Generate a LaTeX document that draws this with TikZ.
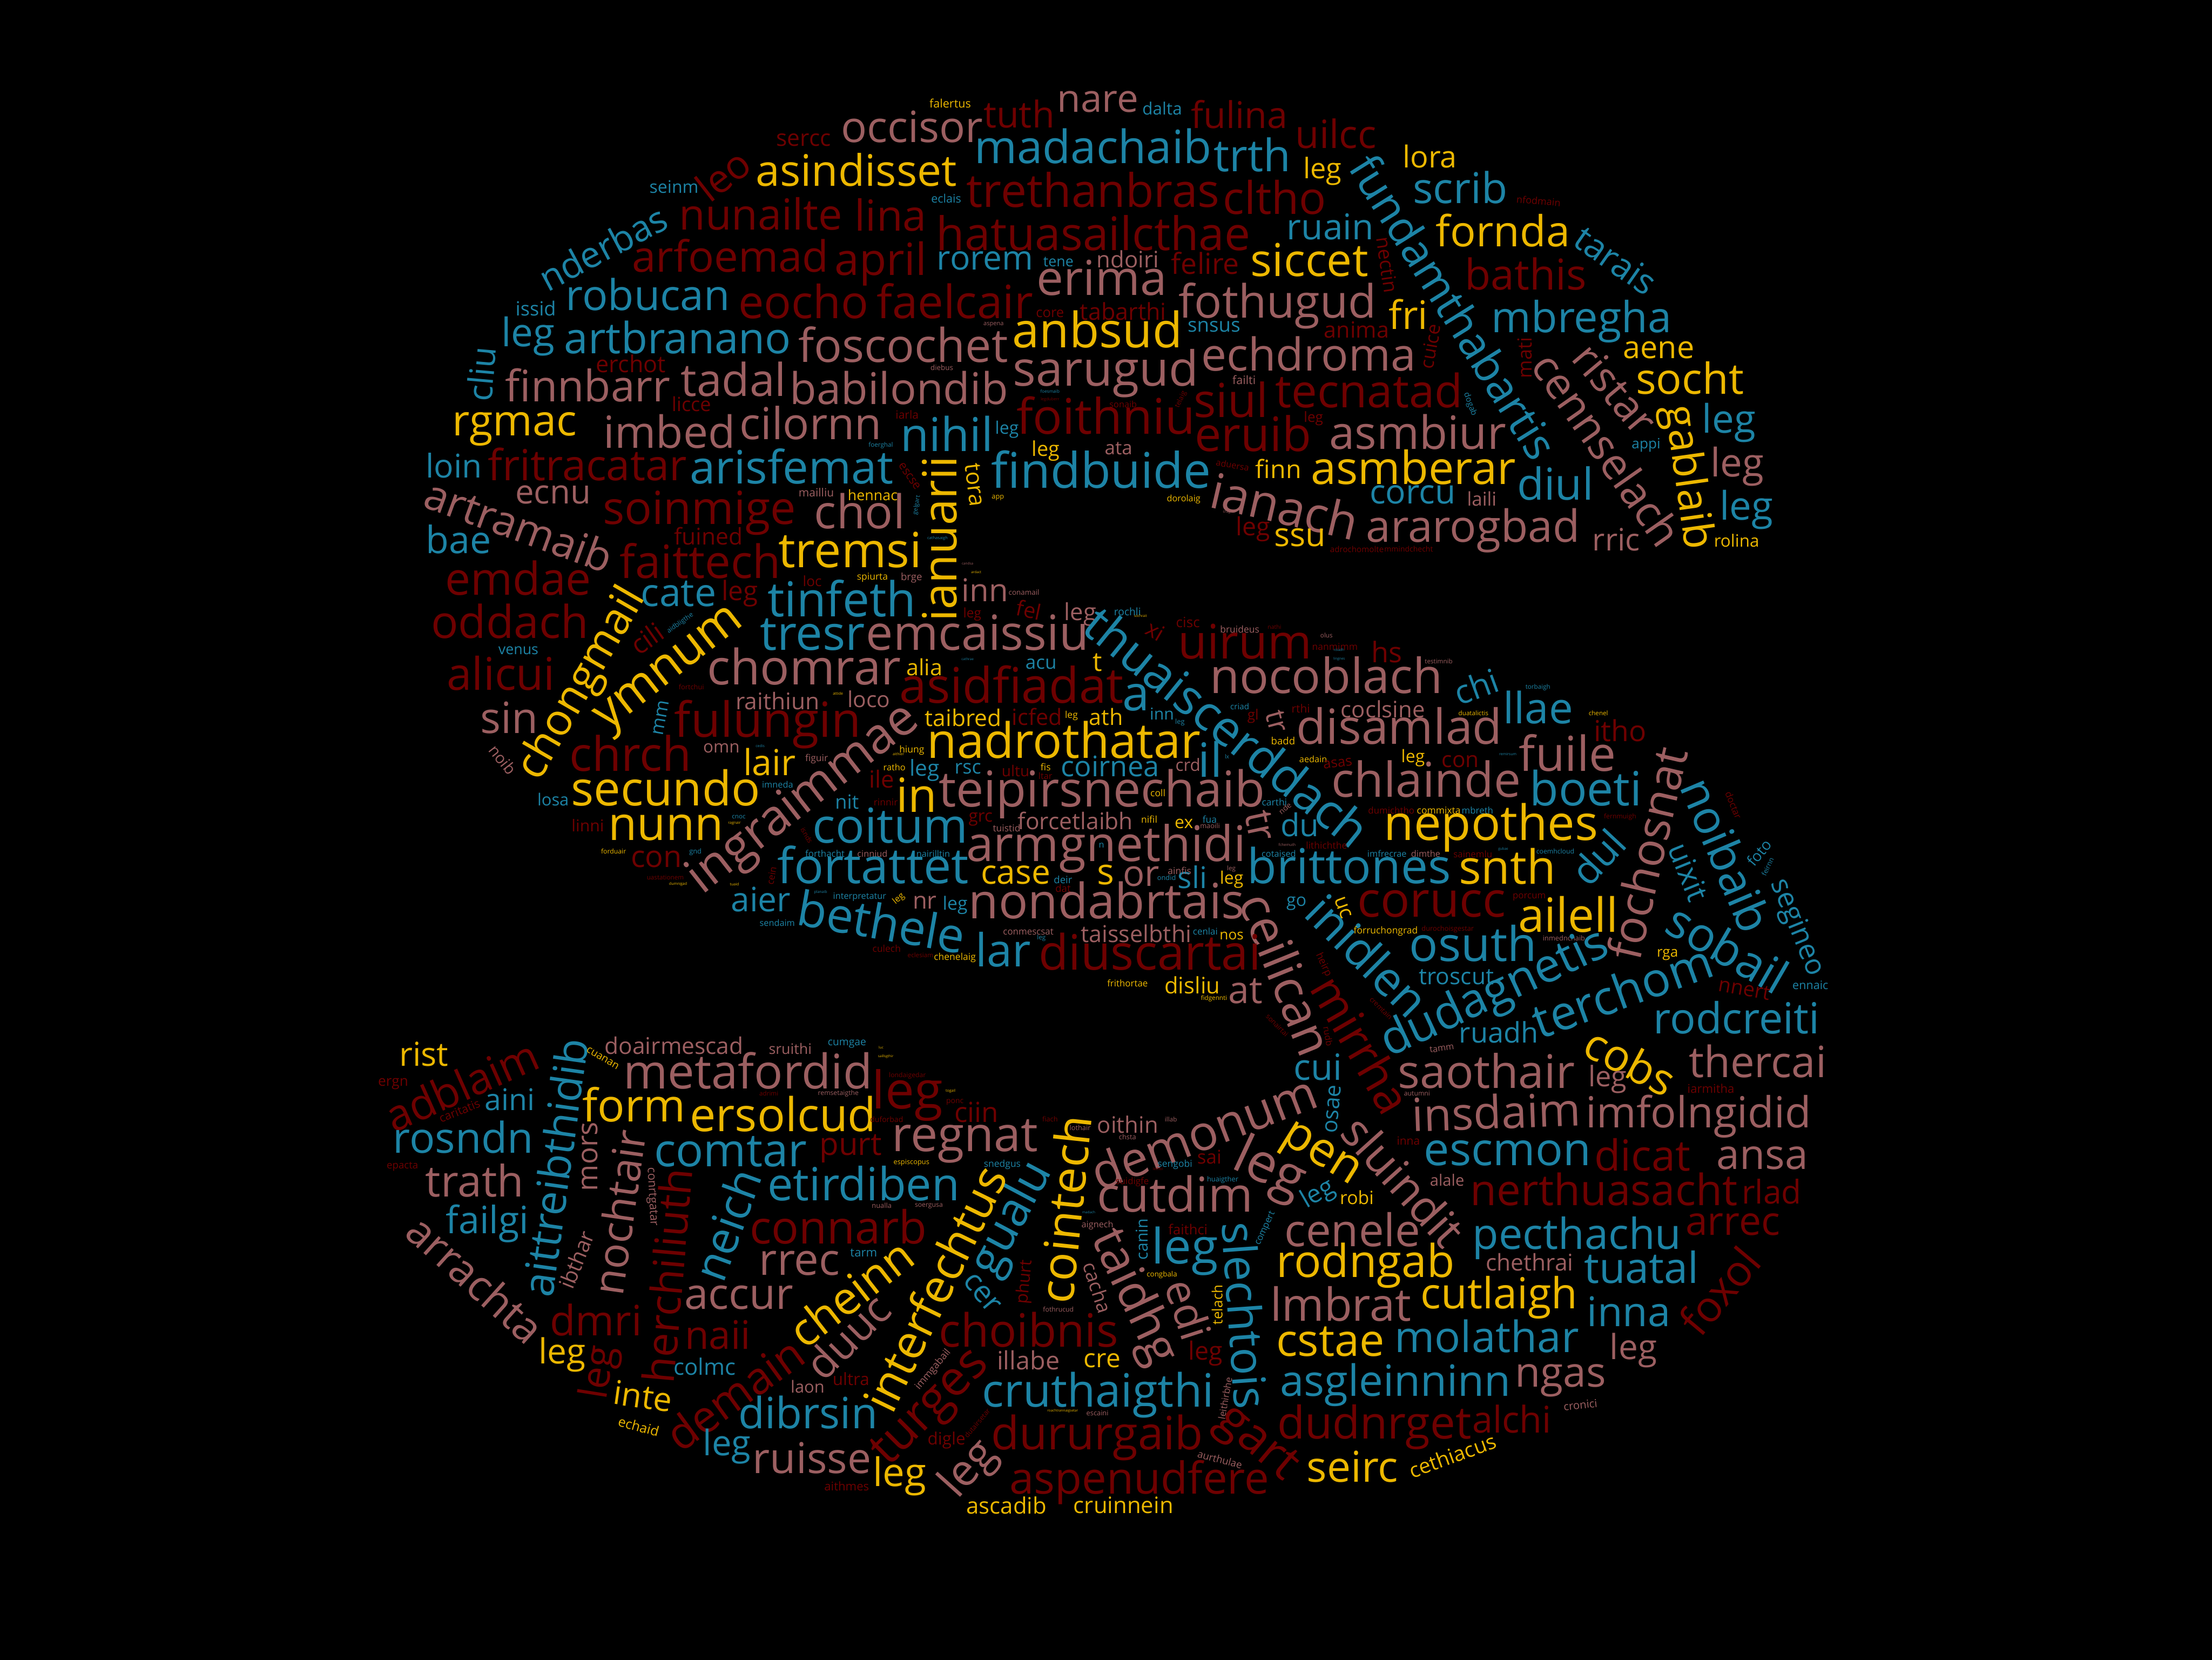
\documentclass[tikz,border=0pt]{standalone}
\usepackage{fontspec}
\setmainfont{Open Sans}
\definecolor{wordgold}{RGB}{237,184,0}
\definecolor{wordblue}{RGB}{29,132,166}
\definecolor{wordrose}{RGB}{156,95,97}
\definecolor{worddark}{RGB}{110,0,0}
\tikzset{
     word/.style={inner sep=0pt, outer sep=0pt},
     wg/.style={word, text=wordgold},
     wb/.style={word, text=wordblue},
     wr/.style={word, text=wordrose},
     wd/.style={word, text=worddark},
    }
% #1 origin of the block, #2 prefix of the node names, #3 x/y/size/style/angle/text
\newcommand{\wordblock}[3]{
  \begin{scope}[shift={#1}]
    \foreach \x/\y/\s/\c/\r/\t [count=\i] in {#3} {
      \pgfmathsetmacro\fs{\s*0.1657}
      \node[\c, rotate=\r, font=\fontsize{\fs pt}{\fs pt}\selectfont] (#2\i) at (\x,\y) {\t};
    }
  \end{scope}
}
\begin{document}
\begin{tikzpicture}[x=0.0057398cm, y=-0.0057398cm]
  \useasboundingbox (0,0) rectangle (7136.1,5352.1);
  \fill[black] (-10,-10) rectangle (7146,5362);

  % top left
  \wordblock{(1254.4,243.9)}{a}{
    1338/207/73/wd/0/sercc, 1688/165/137/wr/0/occisor, 1508/304/138/wg/0/asindisset,
    1078/320/126/wd/38/leo, 920/358/55/wb/0/seinm, 1200/445/136/wd/0/nunailte,
    1619/450/136/wd/0/lina, 690/555/115/wb/28/nderbas, 1102/580/137/wd/0/arfoemad,
    1587/607/141/wd/0/april, 836/705/135/wb/0/robucan, 1338/728/145/wd/0/eocho,
    474/751/62/wb/0/issid, 449/840/125/wb/0/leg, 932/845/137/wb/0/artbranano,
    1659/868/148/wr/0/foscochet, 298/962/108/wb/85/cliu, 781/930/74/wd/0/erchot,
    642/998/138/wr/0/finnbarr, 1112/980/144/wr/0/tadal, 1646/1008/139/wr/0/babilondib,
    976/1060/62/wd/0/licce, 406/1140/136/wg/0/rgmac, 905/1148/141/wr/0/imbed,
    1361/1120/140/wr/0/cilornn, 210/1258/104/wb/0/loin, 640/1253/136/wd/0/fritracatar,
    1299/1260/146/wb/0/arisfemat, 420/1450/135/wr/-20/artramaib, 530/1352/106/wr/0/ecnu,
    1379/1345/36/wr/0/mailliu, 1561/1353/46/wg/0/hennac, 1002/1410/145/wd/0/soinmige,
    1519/1405/148/wr/0/chol, 225/1495/120/wb/0/bae, 1031/1485/73/wd/0/fuined,
    1005/1565/146/wd/0/faittech, 1488/1530/154/wg/0/tremsi
  }

  % top middle
  \wordblock{(2822.4,243.9)}{b}{
    243/90/37/wg/0/falertus, 465/124/117/wd/0/tuth, 719/85/122/wr/0/nare,
    927/105/54/wb/0/dalta, 1176/125/117/wd/0/fulina, 1487/188/124/wd/0/uilcc,
    704/228/146/wb/0/madachaib, 1217/255/142/wb/0/trth, 1444/308/90/wg/0/leg,
    704/368/147/wd/0/trethanbras, 1290/393/143/wd/0/cltho, 230/397/37/wb/0/eclais,
    705/507/147/wd/0/hatuasailcthae, 1469/488/113/wb/0/ruain, 356/598/107/wb/0/rorem,
    592/600/46/wb/0/tene, 816/592/72/wr/0/ndoiri, 1066/605/92/wd/0/felire,
    1402/595/144/wg/0/siccet, 732/652/153/wr/0/erima, 258/728/146/wd/0/faelcair,
    1299/742/146/wr/0/fothugud, 801/760/74/wd/0/tabarthi, 565/768/44/wd/0/core,
    718/818/155/wg/0/anbsud, 1094/810/63/wb/0/snsus, 383/802/19/wr/0/aspena,
    1554/820/71/wd/0/anima, 216/941/23/wr/0/diebus, 745/960/154/wr/0/sarugud,
    1399/897/144/wr/0/echdroma, 1191/982/37/wr/0/failti, 1594/1015/146/wd/0/tecnatad,
    1149/1045/149/wd/0/siul, 565/1018/14/wb/0/foesmaib, 565/1045/13/wd/0/legduberr,
    987/1045/22/wd/65/telaig, 801/1060/28/wd/0/sonaib, 104/1094/36/wd/0/iarla,
    1415/1106/45/wd/0/leg, 232/1155/148/wb/0/nihil, 745/1097/156/wd/0/foithniu,
    426/1142/55/wb/0/leg, 1220/1155/151/wd/0/eruib, 1751/1150/146/wr/0/asmbiur,
    19/1192/20/wb/0/foerghal, 786/1202/60/wr/0/ata, 551/1210/65/wg/0/leg,
    730/1270/156/wb/0/findbuide, 1154/1256/28/wd/-10/aduersa, 1302/1268/80/wg/0/finn,
    1737/1262/145/wg/0/asmberar, 1322/1388/155/wr/-13/ianach, 112/1292/38/wd/-55/escse,
    323/1320/73/wg/-83/tora, 208/1494/150/wg/90/ianuarii, 397/1361/22/wg/0/app,
    996/1366/28/wg/0/dorolaig, 135/1385/19/wb/80/gelgart, 1135/1408/12/wr/0/crag,
    1220/1462/80/wd/0/leg, 1372/1490/105/wg/0/ssu, 202/1492/13/wb/0/cathasaigh,
    1555/1527/26/wd/0/adrochomolte
  }

  % top right
  \wordblock{(4390.4,243.9)}{c}{
    222/261/96/wg/0/lora, 320/360/135/wb/0/scrib, 573/404/31/wd/-5/nfodmain,
    458/500/136/wg/0/fornda, 822/595/112/wb/-35/tarais, 532/640/135/wd/0/bathis,
    85/610/62/wd/-82/nectin, 300/745/141/wb/-58/fundamthabartis, 153/770/125/wg/0/fri,
    712/792/136/wb/0/mbregha, 224/873/60/wd/80/cuice, 528/910/62/wd/90/mati,
    961/885/99/wg/0/aene, 820/1010/134/wr/-50/ristar, 795/1205/137/wr/-55/cennselach,
    1061/975/136/wg/0/socht, 352/1060/26/wb/-70/dogab, 1187/1120/125/wb/0/leg,
    1050/1295/136/wg/-82/gablaib, 920/1192/45/wb/0/appi, 1214/1260/125/wr/0/leg,
    1244/1400/125/wb/0/leg, 627/1315/140/wb/0/diul, 167/1352/107/wb/0/corcu,
    390/1365/60/wr/0/laili, 362/1468/141/wr/0/ararogbad, 824/1497/98/wr/0/rric,
    1212/1500/54/wg/0/rolina, 154/1527/24/wd/0/mmindchecht
  }

  % middle left
  \wordblock{(1254.4,1811.9)}{d}{
    418/52/144/wd/0/emdae, 625/395/140/wg/60/chongmail, 935/103/123/wb/0/cate,
    1132/102/85/wd/0/leg, 1366/63/45/wd/0/loc, 1560/50/30/wg/0/spiurta,
    1461/118/153/wb/0/tinfeth, 390/192/144/wd/0/oddach, 1367/235/152/wb/0/tresr,
    1899/228/154/wr/0/emcaissiu, 832/247/85/wd/35/cili, 940/198/21/wb/35/aidbligthe,
    912/355/155/wg/38/ymnum, 418/287/46/wb/0/venus, 1339/338/155/wr/0/chomrar,
    362/360/143/wd/0/alicui, 976/404/22/wd/0/fortchui, 1254/448/73/wr/0/raithiun,
    1548/443/70/wr/0/loco, 1449/425/12/wg/0/attide, 1222/525/154/wd/0/fulungin,
    388/502/137/wr/0/sin, 878/503/60/wb/80/mm, 780/618/151/wd/0/chrch,
    1073/602/54/wr/0/omn, 368/638/50/wr/-52/noib, 1228/645/114/wg/0/lair,
    1380/635/30/wr/0/figuir, 1198/593/12/wb/0/cedis, 893/728/152/wg/0/secundo,
    1254/718/28/wb/0/imneda, 530/767/53/wb/0/losa, 1340/768/158/wr/38/ingraimmae,
    1478/774/62/wb/0/nit, 1618/850/153/wb/0/coitum, 642/850/52/wd/0/linni,
    894/858/149/wg/0/nunn, 1129/823/20/wb/0/cnoc, 1115/843/12/wg/0/ragnair,
    1348/882/22/wd/-60/isnds, 725/934/21/wg/0/forduair, 989/935/22/wb/0/gnd,
    863/960/96/wd/0/con, 1562/978/157/wb/0/fortattet, 1407/941/29/wb/0/forthacht,
    1560/941/28/wr/0/cinniud, 1235/1012/30/wd/80/cein, 892/1018/20/wd/0/uastationem,
    933/1039/12/wg/0/dumnigad, 1115/1039/12/wg/0/tuaid, 1393/1066/12/wb/0/planaib,
    1519/1081/28/wb/0/interpretatur, 1200/1088/107/wb/0/aier, 1590/1160/153/wb/-10/bethele,
    1253/1164/28/wb/0/sendaim
  }

  % middle
  \wordblock{(2822.4,1811.9)}{e}{
    355/90/100/wr/0/inn, 118/52/32/wr/0/brge, 481/99/23/wr/0/conamail,
    327/34/11/wg/0/ardact, 299/6/11/wr/0/candsa, 497/155/68/wd/-12/fel,
    663/170/75/wr/0/leg, 314/170/42/wd/0/leg, 815/161/33/wb/0/rochli,
    857/174/11/wg/0/sochrait, 905/222/70/wd/-30/xi, 1137/531/155/wb/-39/thuaiscerddach,
    1010/196/45/wd/0/cisc, 1194/258/151/wd/0/uirum, 1177/217/30/wr/0/bruideus,
    1289/210/18/wd/0/nathi, 1457/238/20/wr/0/olus, 1484/274/30/wd/0/nanmimm,
    1497/285/11/wb/0/roiadh, 1498/313/11/wb/0/lingnes, 299/313/11/wb/0/cathrae,
    160/340/71/wg/0/alia, 536/330/60/wb/0/acu, 718/324/85/wg/0/t,
    1456/365/154/wr/0/nocoblach, 441/395/156/wd/0/asidfiadat, 843/438/155/wb/0/a,
    285/502/73/wg/0/taibred, 523/500/71/wd/0/icfed, 634/497/30/wg/0/leg,
    746/500/71/wg/0/ath, 926/490/52/wb/0/inn, 1177/467/26/wb/0/criad,
    1374/473/36/wd/0/rthi, 1220/498/45/wd/0/gl, 1297/515/90/wr/-75/tr,
    984/517/22/wb/0/leg, 610/575/155/wg/0/nadrothatar, 1692/530/154/wr/0/disamlad,
    1639/476/72/wr/0/coclsine, 119/608/30/wg/0/hiung, 76/620/12/wg/0/aithier,
    1317/578/32/wg/0/badd, 1082/637/150/wb/0/il, 63/663/28/wg/0/ratho,
    22/700/75/wd/0/ile, 160/673/70/wb/0/leg, 300/667/62/wb/0/rsc,
    454/675/48/wd/0/ultu, 551/662/30/wg/0/fis, 550/691/28/wd/0/ltar,
    759/660/90/wb/0/coirnea, 1010/655/54/wr/0/crd, 1414/636/28/wg/0/aedain,
    1136/628/18/wb/0/lx, 1493/650/45/wd/8/asas, 134/752/150/wg/0/in,
    732/748/157/wr/0/teipirsnechaib, 913/746/30/wg/0/coll, 35/775/30/wd/0/rinnir,
    1289/775/30/wb/0/carthi, 1323/795/24/wr/40/nde, 647/835/73/wr/0/forcetlaibh,
    341/830/54/wd/0/grc, 885/830/30/wg/0/nifil, 997/845/55/wg/0/ex,
    1080/830/30/wb/0/fua, 1081/851/22/wr/0/maoili, 425/859/30/wr/0/tuistid,
    1242/851/125/wr/-78/tr, 1371/847/100/wb/0/du, 746/925/156/wr/0/armgnethidi,
    731/914/28/wb/0/n, 1457/914/30/wd/0/lithichthe, 1330/912/12/wr/0/fchemuth,
    1303/942/28/wb/0/cotaised, 188/942/28/wb/0/nairilltin, 1530/980/153/wb/0/brittones,
    454/1010/107/wg/0/case, 745/1010/115/wg/0/s, 859/1015/115/wr/0/or,
    1024/1017/95/wb/0/sli, 983/997/30/wr/0/ainfis, 941/1018/22/wb/0/ondid,
    1151/1025/55/wg/0/leg, 1150/991/20/wr/0/leg, 607/1025/32/wb/0/deir,
    607/1053/32/wd/0/dat, 77/1087/28/wg/40/leg, 161/1098/75/wr/0/nr,
    259/1107/58/wb/0/leg, 748/1092/155/wr/0/nondabrtais, 1360/1102/55/wb/0/go,
    1510/1115/65/wg/-70/uc, 1329/1328/157/wr/-68/ceilican, 1590/1270/150/wb/-45/inidlen,
    414/1250/145/wb/0/lar, 495/1193/29/wr/0/conmescsat, 537/1214/20/wb/0/leg,
    843/1200/74/wr/0/taisselbthi, 1066/1192/29/wb/0/cenlai, 1151/1207/45/wg/0/nos,
    887/1258/155/wd/0/diuscartai, 38/1248/30/wd/0/culech, 147/1269/20/wd/0/eclesiam,
    258/1277/30/wg/0/chenelaig, 1447/1300/32/wd/-65/heirp, 1570/1556/150/wd/-60/mirrha,
    815/1359/29/wg/0/frithortae, 1024/1365/72/wg/0/disliu, 1195/1385/120/wr/0/at,
    1094/1408/20/wg/0/fidgennti, 1298/1495/22/wd/-45/sonairtai, 1462/1530/28/wd/-80/rudb
  }

  % middle right
  \wordblock{(4390.4,1811.9)}{f}{
    84/290/90/wd/0/hs, 251/321/20/wr/0/testimnib, 372/402/105/wb/20/chi,
    571/405/20/wb/0/torbaigh, 572/470/137/wb/0/llae, 363/488/20/wg/0/duatalictis,
    766/488/20/wg/0/chenel, 836/545/92/wd/0/itho, 667/617/153/wr/0/fuile,
    168/633/55/wg/0/leg, 321/644/70/wd/0/con, 474/620/12/wb/0/remirsum,
    210/700/153/wr/0/chlainde, 726/730/150/wb/0/boeti, 922/940/148/wr/77/fochosnat,
    1180/945/147/wb/-67/noibaib, 1202/785/30/wd/-68/doctar, 420/858/155/wg/0/nepothes,
    98/802/29/wd/0/dumichtho, 251/802/30/wg/0/commixta, 376/802/29/wb/0/mbreth,
    836/823/21/wd/0/fernmuigh, 765/952/125/wb/47/dul, 1057/1000/95/wb/-68/uixit,
    1285/938/48/wb/50/foto, 1312/983/22/wb/65/feirnn, 84/942/28/wb/0/imfrecrae,
    209/942/28/wr/0/dimthe, 361/942/29/wd/0/sainemlu, 627/934/21/wb/0/coemhcloud,
    459/927/11/wb/0/gubae, 472/982/150/wg/0/snth, 228/1103/155/wd/0/corucc,
    1405/1180/90/wb/-68/segineo, 543/1082/29/wd/0/porcum, 669/1138/150/wg/0/ailell,
    1184/1246/150/wb/-30/sobail, 80/1192/30/wg/0/forruchongrad, 280/1185/22/wd/0/durochoisgestar,
    655/1213/22/wr/0/inmednchaib, 362/1230/152/wb/0/osuth, 989/1268/45/wg/0/rga,
    433/1396/150/wb/25/dudagnetis, 843/1383/152/wb/20/terchom, 308/1340/73/wb/0/troscut,
    1237/1378/65/wd/-10/nnert, 1450/1366/37/wb/0/ennaic, 1212/1470/136/wb/0/rodcreiti,
    445/1518/90/wb/0/ruadh, 65/1440/22/wd/-45/cremtain
  }

  % bottom left
  \wordblock{(1254.4,3344.9)}{g}{
    113/55/105/wg/0/rist, 920/28/73/wr/0/doairmescad, 1295/37/46/wr/0/sruithi,
    1478/22/33/wb/0/cumgae, 235/155/137/wd/24/adblaim, 535/420/137/wb/82/aittreibthidib,
    690/68/33/wg/-30/cuanan, 1158/108/152/wr/0/metafordid, 791/218/144/wg/0/form,
    1272/248/148/wg/0/ersolcud, 390/202/95/wb/0/aini, 228/238/37/wd/22/caritatis,
    1226/182/20/wd/0/adrimi, 1450/182/21/wr/0/remsetaigthe, 14/150/45/wd/0/ergn,
    240/322/135/wb/0/rosndn, 648/385/91/wr/90/mors, 742/565/136/wr/82/nochtair,
    1102/370/146/wb/0/comtar, 1490/360/100/wd/0/purt, 44/418/32/wd/0/epacta,
    277/463/138/wr/0/trath, 848/515/38/wr/-87/conrtgatar, 898/770/137/wd/85/herchiliuth,
    1090/605/145/wb/70/neich, 1532/472/145/wb/0/etirdiben, 318/602/120/wb/0/failgi,
    1450/612/145/wd/0/connarb, 280/780/135/wr/-42/arrachta, 605/718/68/wr/68/ibthar,
    1325/730/140/wr/0/rrec, 1532/696/38/wb/0/tarm, 1129/840/137/wr/0/accur,
    1490/825/145/wg/38/cheinn, 668/912/133/wd/0/dmri, 1061/960/125/wd/0/naii,
    1480/965/135/wr/45/duuc, 559/1025/110/wg/0/leg, 682/1082/125/wd/81/leg,
    1019/1062/72/wb/0/colmc, 820/1158/105/wg/-8/inte, 1351/1128/53/wr/0/laon,
    1491/1102/54/wd/0/ultra, 1115/1150/142/wd/36/demain, 1352/1210/137/wb/0/dibrsin,
    806/1255/43/wg/-15/echaid, 1091/1320/112/wb/0/leg, 1365/1358/135/wr/0/ruisse,
    1477/1448/38/wd/0/aithmes
  }

  % bottom middle
  \wordblock{(2822.4,3344.9)}{h}{
    20/34/11/wg/0/luc, 35/62/11/wg/0/saillsgthir, 105/188/165/wd/0/leg,
    105/125/21/wd/0/londaigedar, 244/174/12/wg/0/togail, 258/210/24/wd/0/ponc,
    328/243/88/wd/0/ciin, 38/265/24/wd/0/duforbad, 565/265/22/wd/0/fiach,
    662/293/22/wr/0/lothair, 955/265/20/wr/0/illab, 816/282/72/wr/0/oithin,
    815/322/22/wr/0/chsta, 291/335/154/wr/0/regnat, 612/555/152/wg/84/cointech,
    1060/305/155/wr/21/demonum, 1430/97/115/wb/0/cui, 1478/232/70/wb/85/osae,
    1433/387/150/wg/-32/pen, 1706/464/145/wr/-48/sluindit, 1270/430/170/wr/-25/leg,
    1079/387/60/wd/0/sai, 118/405/22/wg/0/espiscopus, 411/412/30/wb/0/snedgus,
    968/412/30/wb/0/sengobi, 913/425/12/wd/0/lethbi, 445/587/150/wb/62/gualu,
    192/810/150/wg/64/interfechtus, 830/468/29/wd/0/suidigfe, 1122/460/22/wb/0/huaigther,
    968/505/153/wr/0/cutdim, 1430/508/80/wb/30/leg, 1555/517/58/wg/0/robi,
    22/544/22/wr/0/nualla, 174/544/21/wr/0/soergusa, 690/565/11/wb/0/madach,
    1541/620/143/wr/0/cenele, 718/607/28/wr/0/aignech, 862/652/52/wb/90/canin,
    1010/620/44/wd/0/faithci, 1000/690/155/wb/0/leg, 1195/897/146/wb/-86/slechtois,
    1260/617/29/wb/65/compert, 1583/737/144/wg/0/rodngab, 832/840/155/wr/-65/taidhg,
    345/825/95/wb/-50/cer, 485/790/54/wd/85/phurt, 718/807/62/wr/-72/cacha,
    926/767/23/wg/0/congbala, 1012/878/135/wr/-72/edi, 1104/863/45/wg/90/telach,
    592/878/21/wr/0/fothrucud, 1503/860/145/wr/0/lmbrat, 496/943/146/wd/0/choibnis,
    1470/982/142/wg/0/cstae, 1067/1020/80/wd/0/leg, 495/1042/80/wr/0/illabe,
    733/1044/82/wg/0/cre, 188/1072/32/wr/50/immgabail, 185/1200/155/wd/45/turges,
    720/1155/146/wb/0/cruthaigthi, 1679/1122/137/wb/0/asgleinninn, 1130/1165/30/wr/80/leithirbhe,
    606/1206/11/wg/0/roachtrannaigsetar, 718/1213/22/wr/0/escaini, 330/1245/22/wd/50/dutairsetar,
    717/1292/146/wd/0/dururgaib, 231/1300/54/wd/0/digle, 1228/1315/155/wd/-40/gart,
    1611/1258/143/wd/0/dudnrget, 80/1415/125/wg/0/leg, 305/1395/140/wr/48/leg,
    1113/1362/32/wr/-15/aurthulae, 853/1435/140/wd/0/aspenudfere, 1541/1385/135/wg/0/seirc,
    425/1510/72/wg/0/ascadib, 802/1510/72/wg/0/cruinnein
  }

  % bottom right
  \wordblock{(4390.4,3344.9)}{k}{
    261/36/28/wr/8/tamm, 405/108/147/wr/0/saothair, 870/78/140/wg/-28/cobs,
    1280/78/137/wr/0/thercai, 796/135/90/wr/0/leg, 181/181/21/wr/0/autumni,
    1129/166/38/wd/0/iarmitha, 437/240/145/wr/2/insdaim, 1089/255/136/wr/0/imfolngidid,
    153/334/36/wd/0/inna, 473/375/145/wb/0/escmon, 908/380/136/wd/0/dicat,
    1295/391/132/wr/0/ansa, 278/461/50/wr/0/alale, 784/490/137/wd/0/nerthuasacht,
    1325/498/104/wd/0/rlad, 697/648/136/wb/0/pecthachu, 1200/605/126/wd/0/arrec,
    544/725/73/wr/0/chethrai, 905/742/136/wb/0/tuatal, 1157/818/136/wd/50/foxol,
    446/840/136/wg/0/cutlaigh, 864/885/130/wb/0/inna, 406/965/137/wb/0/molathar,
    879/1010/110/wr/0/leg, 644/1107/132/wr/0/ngas, 708/1186/35/wr/6/cronici,
    487/1232/117/wd/0/alchi, 295/1350/66/wg/20/cethiacus
  }
\end{tikzpicture}
\end{document}
